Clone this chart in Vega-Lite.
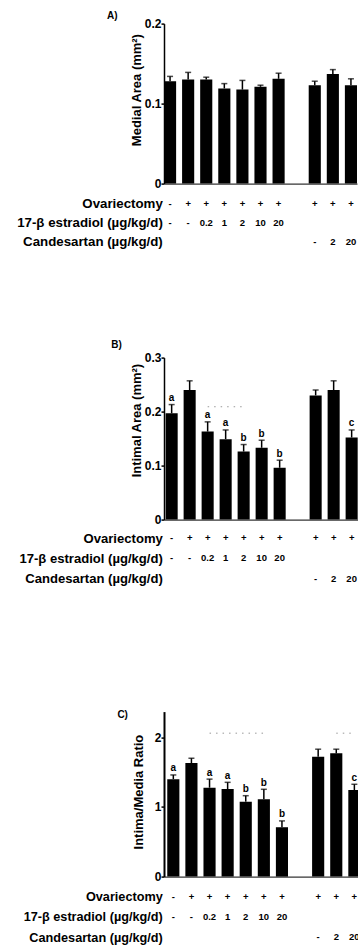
{
  "$schema": "https://vega.github.io/schema/vega-lite/v6.json",
  "padding": {"left": 16, "top": 10.6, "right": 0, "bottom": 0},
  "config": {
    "font": "Liberation Sans",
    "view": {"stroke": null},
    "axis": {"grid": false, "domainColor": "#000", "tickColor": "#000", "labelColor": "#000", "titleColor": "#000", "labelFont": "Liberation Sans", "titleFont": "Liberation Sans"},
    "title": {"font": "Liberation Sans", "fontSize": 10, "fontWeight": "bold", "color": "#000", "anchor": "start", "frame": "group", "baseline": "bottom"}
  },
  "datasets": {
    "bars": [
      {"panel": "A", "slot": "s1", "value": 0.128, "err": 0.134, "sig": null},
      {"panel": "A", "slot": "s2", "value": 0.130, "err": 0.139, "sig": null},
      {"panel": "A", "slot": "s3", "value": 0.130, "err": 0.133, "sig": null},
      {"panel": "A", "slot": "s4", "value": 0.119, "err": 0.125, "sig": null},
      {"panel": "A", "slot": "s5", "value": 0.1175, "err": 0.129, "sig": null},
      {"panel": "A", "slot": "s6", "value": 0.121, "err": 0.123, "sig": null},
      {"panel": "A", "slot": "s7", "value": 0.131, "err": 0.138, "sig": null},
      {"panel": "A", "slot": "s9", "value": 0.123, "err": 0.128, "sig": null},
      {"panel": "A", "slot": "s10", "value": 0.137, "err": 0.1425, "sig": null},
      {"panel": "A", "slot": "s11", "value": 0.123, "err": 0.131, "sig": null},
      {"panel": "B", "slot": "s1", "value": 0.197, "err": 0.213, "sig": "a"},
      {"panel": "B", "slot": "s2", "value": 0.240, "err": 0.257, "sig": null},
      {"panel": "B", "slot": "s3", "value": 0.163, "err": 0.181, "sig": "a"},
      {"panel": "B", "slot": "s4", "value": 0.149, "err": 0.166, "sig": "a"},
      {"panel": "B", "slot": "s5", "value": 0.126, "err": 0.139, "sig": "b"},
      {"panel": "B", "slot": "s6", "value": 0.133, "err": 0.147, "sig": "b"},
      {"panel": "B", "slot": "s7", "value": 0.096, "err": 0.110, "sig": "b"},
      {"panel": "B", "slot": "s9", "value": 0.230, "err": 0.240, "sig": null},
      {"panel": "B", "slot": "s10", "value": 0.240, "err": 0.257, "sig": null},
      {"panel": "B", "slot": "s11", "value": 0.152, "err": 0.166, "sig": "c"},
      {"panel": "C", "slot": "s1", "value": 1.40, "err": 1.46, "sig": "a"},
      {"panel": "C", "slot": "s2", "value": 1.63, "err": 1.70, "sig": null},
      {"panel": "C", "slot": "s3", "value": 1.277, "err": 1.40, "sig": "a"},
      {"panel": "C", "slot": "s4", "value": 1.258, "err": 1.354, "sig": "a"},
      {"panel": "C", "slot": "s5", "value": 1.076, "err": 1.162, "sig": "b"},
      {"panel": "C", "slot": "s6", "value": 1.11, "err": 1.254, "sig": "b"},
      {"panel": "C", "slot": "s7", "value": 0.709, "err": 0.80, "sig": "b"},
      {"panel": "C", "slot": "s9", "value": 1.72, "err": 1.83, "sig": null},
      {"panel": "C", "slot": "s10", "value": 1.77, "err": 1.83, "sig": null},
      {"panel": "C", "slot": "s11", "value": 1.244, "err": 1.326, "sig": "c"}
    ],
    "dots": [
      {"panel": "B", "start": "s3", "end": "s5", "level": 0.209},
      {"panel": "C", "start": "s3", "end": "s6", "level": 2.06},
      {"panel": "C", "start": "s10", "end": "s11", "level": 2.06}
    ],
    "rows": [
      {"row": "Ovariectomy", "slot": "s1", "label": "-"},
      {"row": "Ovariectomy", "slot": "s2", "label": "+"},
      {"row": "Ovariectomy", "slot": "s3", "label": "+"},
      {"row": "Ovariectomy", "slot": "s4", "label": "+"},
      {"row": "Ovariectomy", "slot": "s5", "label": "+"},
      {"row": "Ovariectomy", "slot": "s6", "label": "+"},
      {"row": "Ovariectomy", "slot": "s7", "label": "+"},
      {"row": "Ovariectomy", "slot": "s9", "label": "+"},
      {"row": "Ovariectomy", "slot": "s10", "label": "+"},
      {"row": "Ovariectomy", "slot": "s11", "label": "+"},
      {"row": "17-β estradiol (µg/kg/d)", "slot": "s1", "label": "-"},
      {"row": "17-β estradiol (µg/kg/d)", "slot": "s2", "label": "-"},
      {"row": "17-β estradiol (µg/kg/d)", "slot": "s3", "label": "0.2"},
      {"row": "17-β estradiol (µg/kg/d)", "slot": "s4", "label": "1"},
      {"row": "17-β estradiol (µg/kg/d)", "slot": "s5", "label": "2"},
      {"row": "17-β estradiol (µg/kg/d)", "slot": "s6", "label": "10"},
      {"row": "17-β estradiol (µg/kg/d)", "slot": "s7", "label": "20"},
      {"row": "Candesartan (µg/kg/d)", "slot": "s9", "label": "-"},
      {"row": "Candesartan (µg/kg/d)", "slot": "s10", "label": "2"},
      {"row": "Candesartan (µg/kg/d)", "slot": "s11", "label": "20"}
    ]
  },
  "spacing": 0,
  "vconcat": [
    {
      "spacing": 0,
      "vconcat": [
        {
          "title": {"text": "A)", "dx": -57, "offset": -3.8},
          "width": 193, "height": 160,
          "data": {"name": "bars"},
          "transform": [{"filter": "datum.panel === 'A'"}],
          "encoding": {
            "x": {"field": "slot", "type": "nominal", "scale": {"type": "band", "domain": ["s1","s2","s3","s4","s5","s6","s7","s8","s9","s10","s11"], "paddingInner": 0.33, "paddingOuter": 0}, "axis": {"labels": false, "ticks": false, "title": null, "domainWidth": 1}}
          },
          "layer": [
            {"mark": {"type": "bar", "color": "#000"},
             "encoding": {"y": {"field": "value", "type": "quantitative", "title": "Medial Area (mm²)", "scale": {"domain": [0, 0.2], "nice": false},
               "axis": {"values": [0, 0.1, 0.2], "format": "~g", "titleFontSize": 13, "titleFontWeight": "bold", "labelFontSize": 12, "labelFontWeight": "bold", "tickSize": 3, "labelPadding": 0, "domainWidth": 1.5, "tickWidth": 1.5, "titlePadding": 1, "titleY": 66}}}},
            {"mark": {"type": "rule", "color": "#000", "strokeWidth": 1.5},
             "encoding": {"y": {"field": "value", "type": "quantitative", "title": "Medial Area (mm²)"}, "y2": {"field": "err"}}},
            {"mark": {"type": "tick", "color": "#000", "size": 6, "thickness": 1.5},
             "encoding": {"y": {"field": "err", "type": "quantitative", "title": "Medial Area (mm²)"}}}
          ]
        },
        {
          "width": 193, "height": 149.6,
          "data": {"name": "rows"},
          "mark": {"type": "text", "fontSize": 9.5, "fontWeight": "bold", "color": "#000"},
          "encoding": {
            "x": {"field": "slot", "type": "nominal", "scale": {"type": "band", "domain": ["s1","s2","s3","s4","s5","s6","s7","s8","s9","s10","s11"], "paddingInner": 0.33, "paddingOuter": 0}, "axis": null},
            "y": {"field": "row", "type": "nominal", "scale": {"type": "point", "domain": ["Ovariectomy", "17-β estradiol (µg/kg/d)", "Candesartan (µg/kg/d)", "~1", "~2", "~3", "~4"], "padding": 0.937, "align": 0.393},
              "axis": {"title": null, "domain": false, "ticks": false, "labelFontSize": 13.3, "labelFontWeight": "bold", "labelPadding": 1.7, "labelLimit": 300, "labelExpr": "indexof(datum.value, '~') === 0 ? '' : datum.value"}},
            "text": {"field": "label"}
          }
        }
      ]
    },
    {
      "spacing": 0,
      "vconcat": [
        {
          "title": {"text": "B)", "dx": -52.7, "offset": 1.4},
          "width": 195.3, "height": 162,
          "data": {"name": "bars"},
          "transform": [{"filter": "datum.panel === 'B'"}],
          "encoding": {
            "x": {"field": "slot", "type": "nominal", "scale": {"type": "band", "domain": ["s1","s2","s3","s4","s5","s6","s7","s8","s9","s10","s11"], "paddingInner": 0.33, "paddingOuter": 0.09}, "axis": {"labels": false, "ticks": false, "title": null, "domainWidth": 1}}
          },
          "layer": [
            {"mark": {"type": "bar", "color": "#000"},
             "encoding": {"y": {"field": "value", "type": "quantitative", "title": "Intimal Area (mm²)", "scale": {"domain": [0, 0.3], "nice": false},
               "axis": {"values": [0, 0.1, 0.2, 0.3], "format": "~g", "titleFontSize": 13, "titleFontWeight": "bold", "labelFontSize": 12, "labelFontWeight": "bold", "tickSize": 3, "labelPadding": 0, "domainWidth": 1.5, "tickWidth": 1.5, "titlePadding": 1, "titleY": 62.5}}}},
            {"mark": {"type": "rule", "color": "#000", "strokeWidth": 1.5},
             "encoding": {"y": {"field": "value", "type": "quantitative", "title": "Intimal Area (mm²)"}, "y2": {"field": "err"}}},
            {"mark": {"type": "tick", "color": "#000", "size": 6, "thickness": 1.5},
             "encoding": {"y": {"field": "err", "type": "quantitative", "title": "Intimal Area (mm²)"}}},
            {"transform": [{"filter": "datum.sig"}],
             "mark": {"type": "text", "baseline": "alphabetic", "dy": -3.5, "fontSize": 10, "fontWeight": "bold", "color": "#000"},
             "encoding": {"y": {"field": "err", "type": "quantitative", "title": "Intimal Area (mm²)"}, "text": {"field": "sig"}}},
            {"data": {"name": "dots"}, "transform": [{"filter": "datum.panel === 'B'"}],
             "mark": {"type": "rule", "color": "#999", "strokeWidth": 1, "strokeDash": [1.5, 5]},
             "encoding": {"x": {"field": "start", "type": "nominal"}, "x2": {"field": "end"}, "y": {"field": "level", "type": "quantitative", "title": "Intimal Area (mm²)"}}}
          ]
        },
        {
          "width": 195.3, "height": 183.5,
          "data": {"name": "rows"},
          "mark": {"type": "text", "fontSize": 9.5, "fontWeight": "bold", "color": "#000"},
          "encoding": {
            "x": {"field": "slot", "type": "nominal", "scale": {"type": "band", "domain": ["s1","s2","s3","s4","s5","s6","s7","s8","s9","s10","s11"], "paddingInner": 0.33, "paddingOuter": 0.09}, "axis": null},
            "y": {"field": "row", "type": "nominal", "scale": {"type": "point", "domain": ["Ovariectomy", "17-β estradiol (µg/kg/d)", "Candesartan (µg/kg/d)", "~1", "~2", "~3", "~4", "~5", "~6"], "padding": 0.542, "align": 0.571},
              "axis": {"title": null, "domain": false, "ticks": false, "labelFontSize": 13.1, "labelFontWeight": "bold", "labelPadding": 1.7, "labelLimit": 300, "labelExpr": "indexof(datum.value, '~') === 0 ? '' : datum.value"}},
            "text": {"field": "label"}
          }
        }
      ]
    },
    {
      "spacing": 0,
      "vconcat": [
        {
          "title": {"text": "C)", "dx": -46.6, "offset": -8.8},
          "width": 199.7, "height": 165,
          "data": {"name": "bars"},
          "transform": [{"filter": "datum.panel === 'C'"}],
          "encoding": {
            "x": {"field": "slot", "type": "nominal", "scale": {"type": "band", "domain": ["s1","s2","s3","s4","s5","s6","s7","s8","s9","s10","s11"], "paddingInner": 0.33, "paddingOuter": 0.18}, "axis": {"labels": false, "ticks": false, "title": null, "domainWidth": 1}}
          },
          "layer": [
            {"mark": {"type": "bar", "color": "#000"},
             "encoding": {"y": {"field": "value", "type": "quantitative", "title": "Intima/Media Ratio", "scale": {"domain": [0, 2.37], "nice": false},
               "axis": {"values": [0, 1, 2], "format": "~g", "titleFontSize": 13, "titleFontWeight": "bold", "labelFontSize": 12, "labelFontWeight": "bold", "tickSize": 3, "labelPadding": 0, "domainWidth": 2, "tickWidth": 1.5, "titlePadding": 9, "titleY": 80}}}},
            {"mark": {"type": "rule", "color": "#000", "strokeWidth": 1.5},
             "encoding": {"y": {"field": "value", "type": "quantitative", "title": "Intima/Media Ratio"}, "y2": {"field": "err"}}},
            {"mark": {"type": "tick", "color": "#000", "size": 6, "thickness": 1.5},
             "encoding": {"y": {"field": "err", "type": "quantitative", "title": "Intima/Media Ratio"}}},
            {"transform": [{"filter": "datum.sig"}],
             "mark": {"type": "text", "baseline": "alphabetic", "dy": -3.5, "fontSize": 10, "fontWeight": "bold", "color": "#000"},
             "encoding": {"y": {"field": "err", "type": "quantitative", "title": "Intima/Media Ratio"}, "text": {"field": "sig"}}},
            {"data": {"name": "dots"}, "transform": [{"filter": "datum.panel === 'C'"}],
             "mark": {"type": "rule", "color": "#999", "strokeWidth": 1, "strokeDash": [1.5, 5]},
             "encoding": {"x": {"field": "start", "type": "nominal"}, "x2": {"field": "end"}, "y": {"field": "level", "type": "quantitative", "title": "Intima/Media Ratio"}}}
          ]
        },
        {
          "width": 199.7, "height": 63,
          "data": {"name": "rows"},
          "mark": {"type": "text", "fontSize": 9.5, "fontWeight": "bold", "color": "#000"},
          "encoding": {
            "x": {"field": "slot", "type": "nominal", "scale": {"type": "band", "domain": ["s1","s2","s3","s4","s5","s6","s7","s8","s9","s10","s11"], "paddingInner": 0.33, "paddingOuter": 0.18}, "axis": null},
            "y": {"field": "row", "type": "nominal", "scale": {"type": "point", "domain": ["Ovariectomy", "17-β estradiol (µg/kg/d)", "Candesartan (µg/kg/d)"], "padding": 0.548, "align": 0.628},
              "axis": {"title": null, "domain": false, "ticks": false, "labelFontSize": 12.7, "labelFontWeight": "bold", "labelPadding": 1.7, "labelLimit": 300}},
            "text": {"field": "label"}
          }
        }
      ]
    }
  ]
}
